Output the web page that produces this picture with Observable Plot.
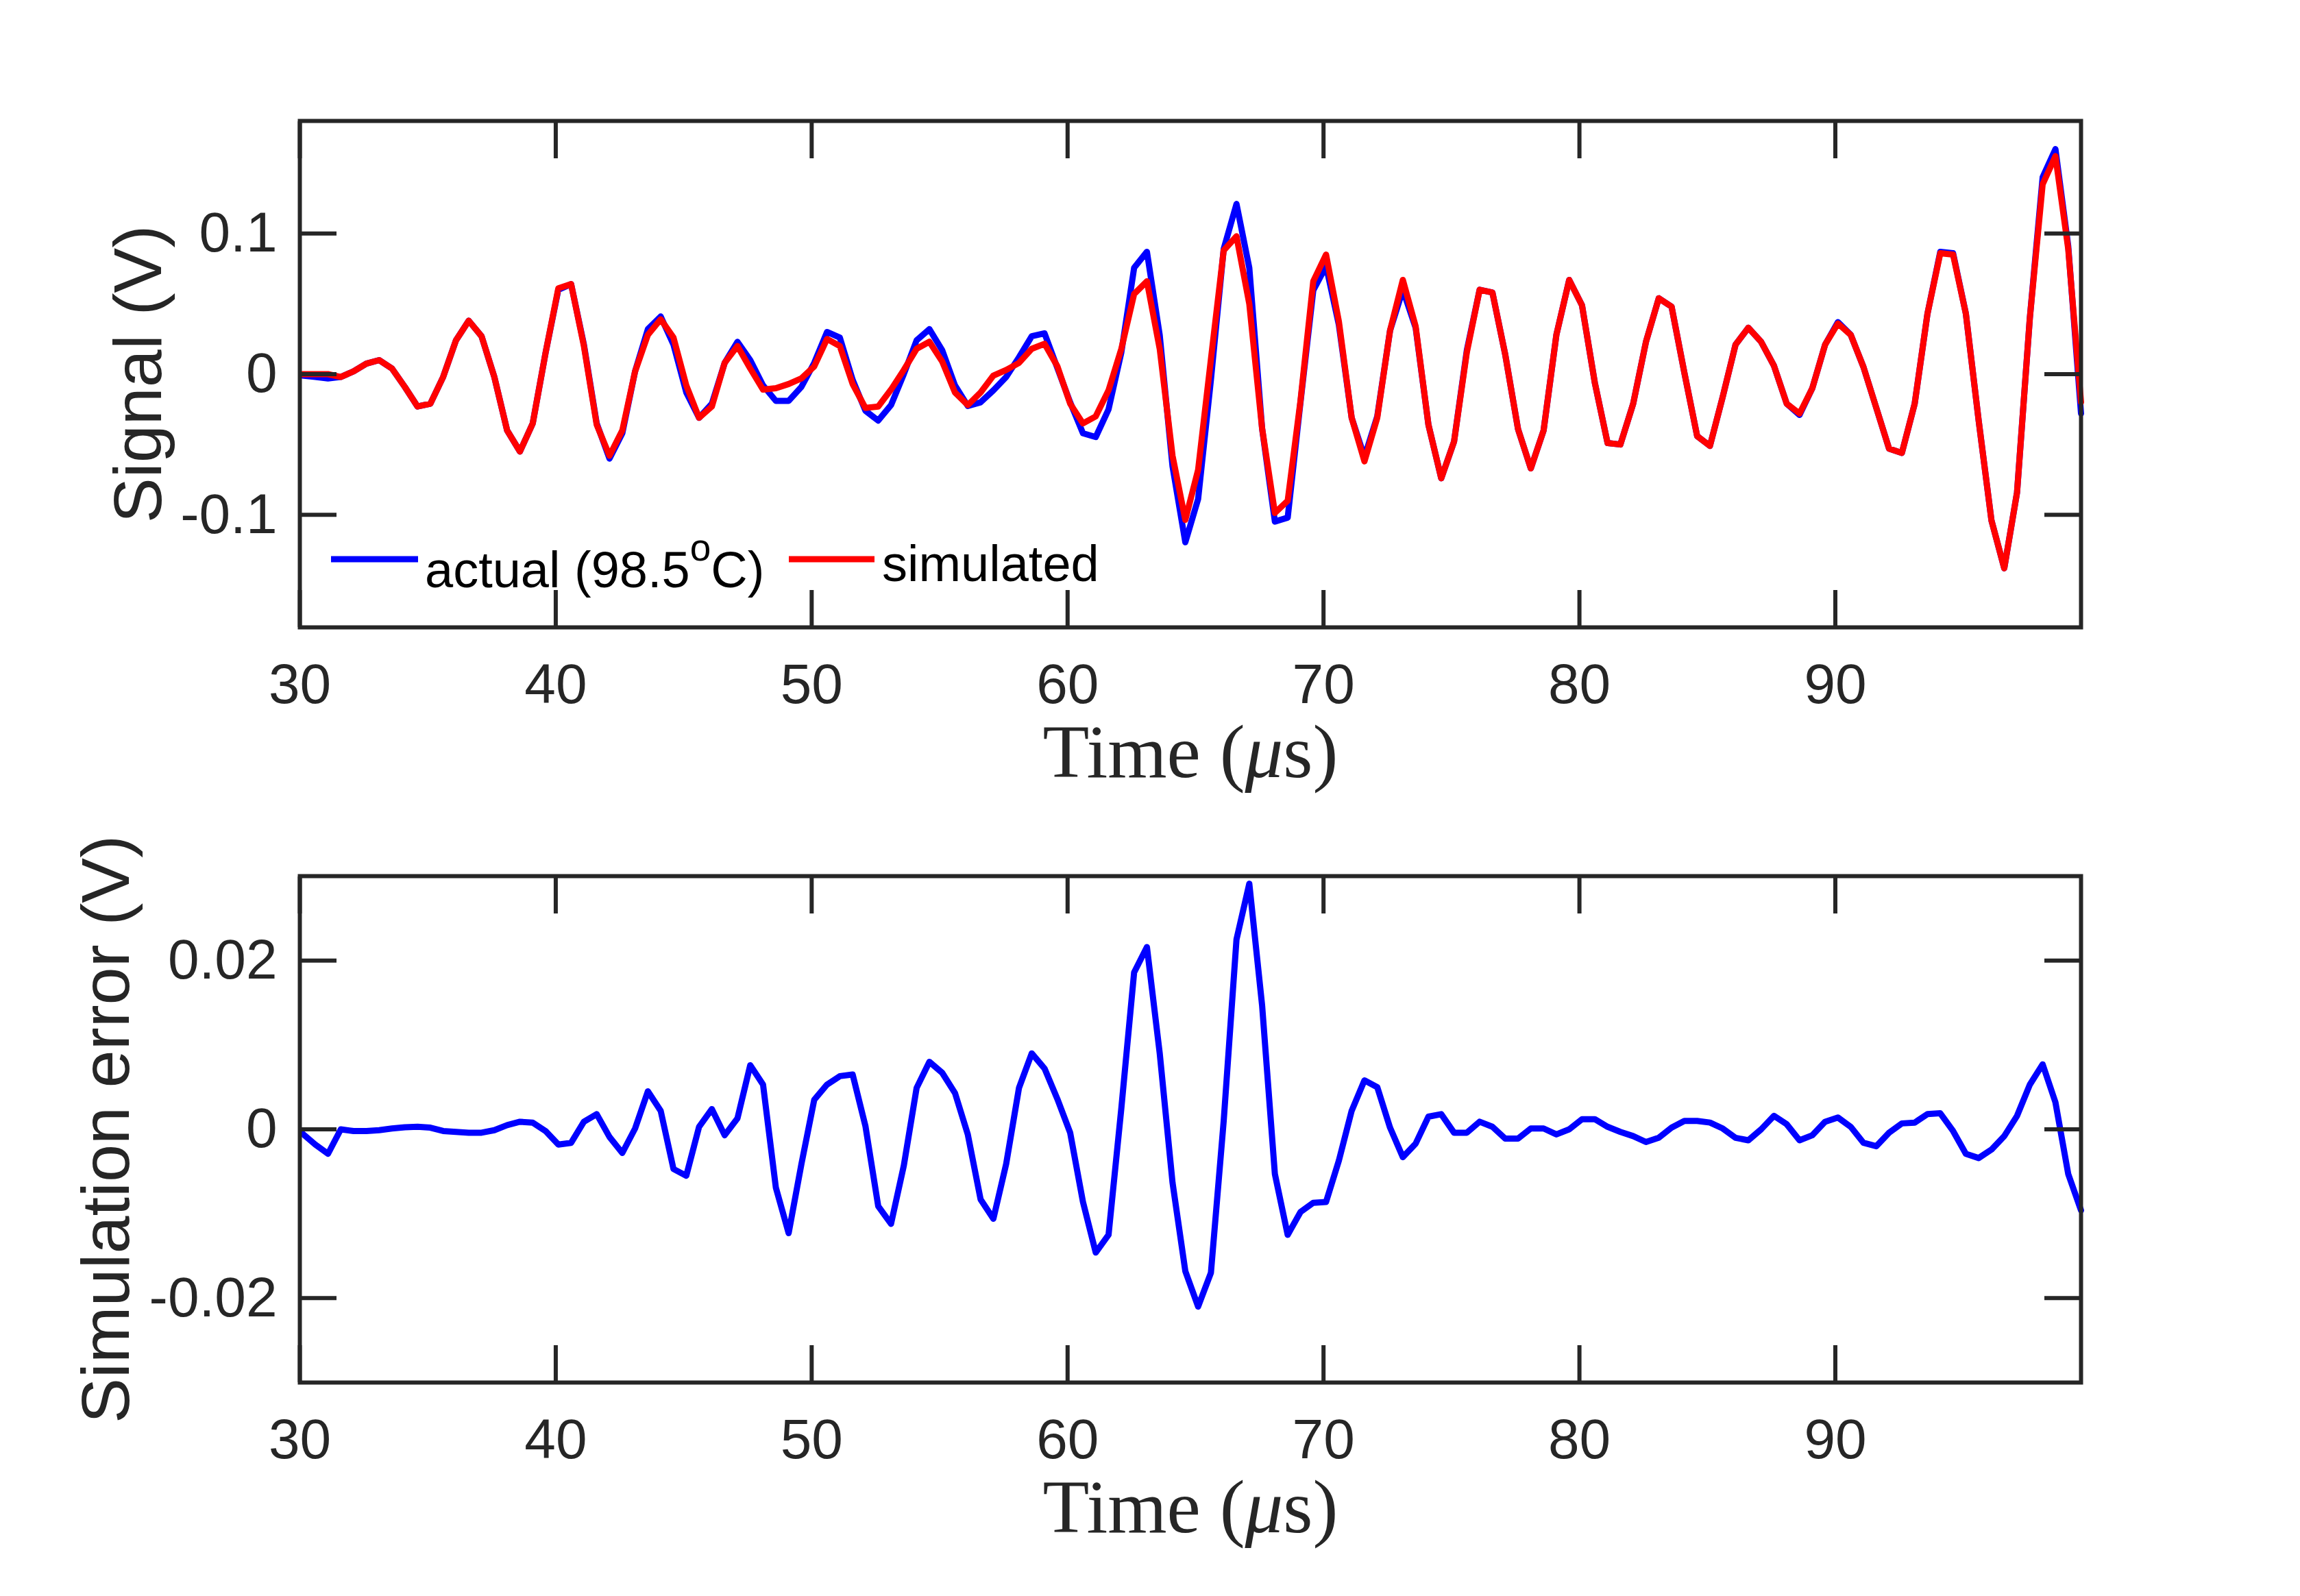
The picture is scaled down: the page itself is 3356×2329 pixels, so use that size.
<!DOCTYPE html>
<html>
<head>
<meta charset="utf-8">
<script src="https://cdn.jsdelivr.net/npm/d3@7"></script>
<script src="https://cdn.jsdelivr.net/npm/@observablehq/plot@0.6"></script>
<style>
  html, body { margin: 0; padding: 0; background: #ffffff; }
  #page { position: relative; width: 3356px; height: 2329px; background: #ffffff; overflow: hidden; }
  #page > svg { position: absolute; left: 0; display: block; }
</style>
</head>
<body>
<div id="page"></div>
<script>
// ---------------- data ----------------
const startTime = 30.1;      // µs, first sample
const sampleStep = 0.5;      // µs between samples

const actual = [
  -0.001, -0.002, -0.003, -0.002, 0.002, 0.0075, 0.010, 0.004, -0.009, -0.023,
  -0.021, -0.002, 0.024, 0.038, 0.027, -0.002, -0.040, -0.055, -0.035, 0.015,
  0.060, 0.064, 0.021, -0.035, -0.060, -0.042, 0.002, 0.032, 0.041, 0.021,
  -0.013, -0.031, -0.021, 0.008, 0.023, 0.010, -0.008, -0.019, -0.019, -0.009,
  0.008, 0.030, 0.026, -0.004, -0.026, -0.033, -0.022, 0.000, 0.024, 0.032,
  0.017, -0.008, -0.0226, -0.020, -0.0115, -0.002, 0.012, 0.027, 0.029, 0.0044,
  -0.020, -0.042, -0.0447, -0.025, 0.0155, 0.0756, 0.087, 0.0277, -0.0655, -0.1195,
  -0.0888, -0.004, 0.089, 0.121, 0.0756, -0.0385, -0.1048, -0.102, -0.020, 0.0596,
  0.0768, 0.035, -0.031, -0.059, -0.030, 0.031, 0.060, 0.033, -0.036, -0.074,
  -0.048, 0.017, 0.060, 0.058, 0.014, -0.039, -0.067, -0.040, 0.028, 0.067,
  0.049, -0.006, -0.049, -0.050, -0.021, 0.023, 0.054, 0.048, 0.001, -0.044,
  -0.051, -0.016, 0.021, 0.033, 0.023, 0.006, -0.021, -0.029, -0.010, 0.021,
  0.037, 0.028, 0.005, -0.024, -0.053, -0.056, -0.021, 0.043, 0.087, 0.086,
  0.043, -0.033, -0.104, -0.138, -0.084, 0.040, 0.140, 0.160, 0.091, -0.028
];

const simulated = [
  0.000, 0.000, 0.000, -0.002, 0.002, 0.0075, 0.010, 0.004, -0.009, -0.023,
  -0.021, -0.002, 0.024, 0.038, 0.027, -0.002, -0.040, -0.055, -0.035, 0.015,
  0.061, 0.064, 0.020, -0.036, -0.058, -0.040, 0.002, 0.028, 0.039, 0.026,
  -0.008, -0.031, -0.023, 0.008, 0.020, 0.004, -0.011, -0.010, -0.007, -0.003,
  0.0055, 0.025, 0.020, -0.007, -0.024, -0.023, -0.011, 0.003, 0.018, 0.023,
  0.009, -0.013, -0.022, -0.013, -0.001, 0.003, 0.008, 0.018, 0.0216, 0.0056,
  -0.021, -0.035, -0.030, -0.0115, 0.018, 0.057, 0.066, 0.018, -0.058, -0.1036,
  -0.068, 0.0105, 0.088, 0.098, 0.050, -0.0385, -0.0987, -0.090, -0.019, 0.066,
  0.085, 0.0375, -0.031, -0.062, -0.031, 0.031, 0.067, 0.034, -0.036, -0.074,
  -0.048, 0.0155, 0.060, 0.058, 0.014, -0.039, -0.067, -0.040, 0.028, 0.067,
  0.049, -0.006, -0.049, -0.050, -0.021, 0.023, 0.054, 0.048, 0.001, -0.044,
  -0.051, -0.016, 0.021, 0.033, 0.023, 0.006, -0.021, -0.028, -0.010, 0.021,
  0.036, 0.028, 0.005, -0.024, -0.053, -0.056, -0.021, 0.043, 0.086, 0.085,
  0.043, -0.033, -0.104, -0.138, -0.084, 0.040, 0.135, 0.155, 0.089, -0.020
];

const simError = [
  -0.0005, -0.0018, -0.0029, 0.0000, -0.0002, -0.0002, -0.0001, 0.0001, 0.00025, 0.0003,
  0.0002, -0.0002, -0.0003, -0.0004, -0.0004, -0.0001, 0.0005, 0.0009, 0.0008, -0.0002,
  -0.0018, -0.0016, 0.0009, 0.0018, -0.0009, -0.0028, 0.0001, 0.0045, 0.0022, -0.0047,
  -0.0055, 0.0003, 0.0024, -0.0007, 0.0013, 0.0076, 0.0053, -0.0069, -0.0123, -0.0041,
  0.0035, 0.0053, 0.0063, 0.0065, 0.0004, -0.0091, -0.0112, -0.0043, 0.0049, 0.0080,
  0.0067, 0.0043, -0.0006, -0.0083, -0.0106, -0.0041, 0.0049, 0.0090, 0.0072, 0.0036,
  -0.0004, -0.0086, -0.0146, -0.0125, 0.0025, 0.0186, 0.0216, 0.0090, -0.0063, -0.0168,
  -0.0210, -0.0170, 0.0010, 0.0225, 0.0291, 0.0147, -0.0053, -0.0125, -0.0098, -0.0087,
  -0.0086, -0.0037, 0.0022, 0.0058, 0.0050, 0.0002, -0.0033, -0.0017, 0.0015, 0.0018,
  -0.0004, -0.0004, 0.0009, 0.0003, -0.0011, -0.0011, 0.0001, 0.0001, -0.0006, 0.0000,
  0.0012, 0.0012, 0.0003, -0.0003, -0.0008, -0.0015, -0.0010, 0.0002, 0.0010, 0.0010,
  0.0008, 0.0001, -0.0010, -0.0013, 0.0000, 0.0016, 0.0006, -0.0013, -0.0007, 0.0009,
  0.0014, 0.0003, -0.0016, -0.0020, -0.0004, 0.0007, 0.0008, 0.0018, 0.0019, -0.0002,
  -0.0029, -0.0034, -0.0024, -0.0008, 0.0016, 0.0053, 0.0077, 0.0032, -0.0053, -0.0096
];

const xDomain = [30, 99.6];
const xTicks = [30, 40, 50, 60, 70, 80, 90];
const signalDomain = [-0.18, 0.18];
const signalTicks = [-0.1, 0, 0.1];
const errorDomain = [-0.03, 0.03];
const errorTicks = [-0.02, 0, 0.02];
const xTitle = "Time (μs)";
const signalTitle = "Signal (V)";
const errorTitle = "Simulation error (V)";
const legendActual = ["actual (98.5", "o", "C)"];
const legendSimulated = "simulated";

// time of each sample
const time = actual.map((_, i) => +(startTime + i * sampleStep).toFixed(2));
const actualRows = time.map((t, i) => ({t, v: actual[i]}));
const simulatedRows = time.map((t, i) => ({t, v: simulated[i]}));
const errorRows = time.map((t, i) => ({t, v: simError[i]}));

// ---------------- styling ----------------
const INK = "#262626";
const SANS = "'Liberation Sans', Arial, Helvetica, sans-serif";
const SERIF = "'Liberation Serif', 'Times New Roman', serif";
const W = 3356;
const ML = 437, MR = W - 3036;
const TICK = 54;
const TICKFONT = 82;
const AXW = 6;
const LINEW = 9;

function panel({yDomain, yTicks, yTitle, yTitleDx, height, marginTop, marginBottom, lines}) {
  const svg = Plot.plot({
    width: W,
    height,
    marginLeft: ML,
    marginRight: MR,
    marginTop,
    marginBottom,
    style: {background: "#ffffff", fontFamily: SANS, color: INK, overflow: "visible"},
    x: {domain: xDomain},
    y: {domain: yDomain},
    marks: [
      ...lines,
      Plot.axisX({anchor: "bottom", ticks: xTicks, tickSize: -TICK, tickPadding: TICK + 52,
        tickFormat: d => String(d), fontSize: TICKFONT, color: INK, strokeWidth: AXW, label: null}),
      Plot.axisX({anchor: "top", ticks: xTicks, tickSize: -TICK, tickFormat: () => "",
        color: INK, strokeWidth: AXW, label: null}),
      Plot.axisY({anchor: "left", ticks: yTicks, tickSize: -TICK, tickPadding: TICK + 33,
        tickFormat: d => String(d), fontSize: TICKFONT, color: INK, strokeWidth: AXW, label: null}),
      Plot.axisY({anchor: "right", ticks: yTicks, tickSize: -TICK, tickFormat: () => "",
        color: INK, strokeWidth: AXW, label: null}),
      Plot.frame({stroke: INK, strokeWidth: AXW}),
      Plot.text([yTitle], {text: d => d, frameAnchor: "left", rotate: -90, dx: yTitleDx,
        lineAnchor: "bottom", textAnchor: "middle", fontSize: 99, fill: INK, fontFamily: SANS}),
      Plot.text([xTitle], {text: d => d, frameAnchor: "bottom", dy: 218,
        lineAnchor: "bottom", textAnchor: "middle", fontSize: 111, fill: INK, fontFamily: SERIF})
    ]
  });
  // italic mu as in the LaTeX label
  d3.select(svg).selectAll("text").each(function () {
    if (this.textContent === xTitle) {
      this.innerHTML = 'Time (<tspan font-style="italic">μ</tspan>s)';
    }
  });
  return svg;
}

const topSvg = panel({
  yDomain: signalDomain,
  yTicks: signalTicks,
  yTitle: signalTitle,
  yTitleDx: 234 - ML,
  height: 1180,
  marginTop: 176,
  marginBottom: 1180 - 915,
  lines: [
    Plot.lineY(actualRows, {x: "t", y: "v", stroke: "#0000ff", strokeWidth: LINEW, strokeLinejoin: "round"}),
    Plot.lineY(simulatedRows, {x: "t", y: "v", stroke: "#ff0000", strokeWidth: LINEW, strokeLinejoin: "round"})
  ]
});
topSvg.style.top = "0px";

const bottomSvg = panel({
  yDomain: errorDomain,
  yTicks: errorTicks,
  yTitle: errorTitle,
  yTitleDx: 187 - ML,
  height: 1149,
  marginTop: 1278 - 1180,
  marginBottom: 2329 - 2017,
  lines: [
    Plot.lineY(errorRows, {x: "t", y: "v", stroke: "#0000ff", strokeWidth: LINEW, strokeLinejoin: "round"})
  ]
});
bottomSvg.style.top = "1180px";

// ---------------- legend inside the top panel ----------------
const lg = d3.select(topSvg).append("g").attr("class", "legend").attr("text-anchor", "start");
lg.append("line").attr("x1", 483).attr("x2", 610).attr("y1", 816).attr("y2", 816)
  .attr("stroke", "#0000ff").attr("stroke-width", LINEW);
const t1 = lg.append("text").attr("x", 620).attr("y", 857).attr("text-anchor", "start")
  .attr("font-family", SANS).attr("font-size", 74).attr("fill", "#000");
t1.append("tspan").text(legendActual[0]);
t1.append("tspan").attr("dy", -39).attr("font-size", 55).text(legendActual[1]);
t1.append("tspan").attr("dy", 39).text(legendActual[2]);
lg.append("line").attr("x1", 1151).attr("x2", 1276).attr("y1", 816).attr("y2", 816)
  .attr("stroke", "#ff0000").attr("stroke-width", LINEW);
lg.append("text").attr("x", 1287).attr("y", 848).attr("text-anchor", "start")
  .attr("font-family", SANS).attr("font-size", 74).attr("fill", "#000").text(legendSimulated);

const page = document.getElementById("page");
page.appendChild(topSvg);
page.appendChild(bottomSvg);
</script>
</body>
</html>
